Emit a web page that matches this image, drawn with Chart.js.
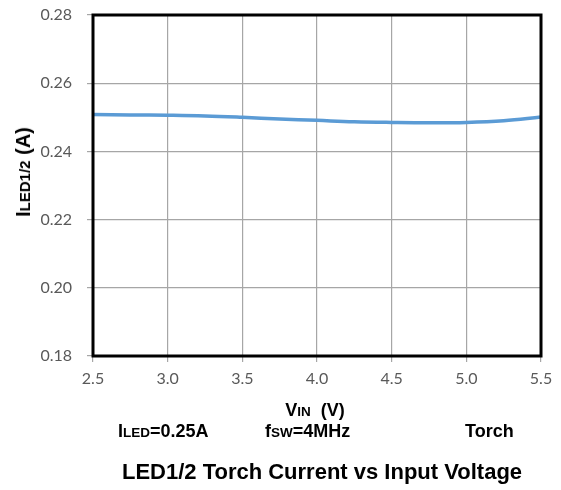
<!DOCTYPE html>
<html>
<head>
<meta charset="utf-8">
<script src="https://cdn.jsdelivr.net/npm/chart.js@4/dist/chart.umd.min.js"></script>
<style>
  body { margin: 0; background: #fff; }
  #wrap { position: relative; width: 561px; height: 490px; }
  #c { position: absolute; left: 0; top: 0; }
  .lbl { position: absolute; font-family: "Liberation Sans", Arial, sans-serif; font-weight: bold; color: #000; white-space: nowrap; line-height: 1; }
  .sm { font-size: 0.75em; }
</style>
</head>
<body>
<div id="wrap">
  <canvas id="c" width="561" height="490"></canvas>
  <div class="lbl" style="font-size:20px; left:23px; top:172px; transform: translate(-50%,-50%) rotate(-90deg);">I<span class="sm">LED1/2</span> (A)</div>
  <div class="lbl" style="font-size:18px; left:315px; top:410px; transform: translate(-50%,-50%);">V<span class="sm">IN</span>&nbsp; (V)</div>
  <div class="lbl" style="font-size:18px; left:118px; top:431px; transform: translateY(-50%);">I<span class="sm">LED</span>=0.25A</div>
  <div class="lbl" style="font-size:18px; left:265px; top:431px; transform: translateY(-50%);">f<span class="sm">SW</span>=4MHz</div>
  <div class="lbl" style="font-size:18px; left:465px; top:431px; transform: translateY(-50%);">Torch</div>
  <div class="lbl" style="font-size:22px; left:322px; top:472px; transform: translate(-50%,-50%);">LED1/2 Torch Current vs Input Voltage</div>
</div>
<script>
// Input voltage (V) and LED1/2 current (A)
const vin = [2.5, 2.75, 3.0, 3.25, 3.5, 3.75, 4.0, 4.25, 4.5, 4.75, 5.0, 5.25, 5.5];
const iled = [0.2508, 0.2507, 0.2506, 0.2504, 0.2500, 0.2495, 0.2491, 0.2487, 0.2485, 0.2484, 0.2485, 0.2490, 0.2501];

const xMin = 2.5, xMax = 5.5, xStep = 0.5;
const yMin = 0.18, yMax = 0.28, yStep = 0.02;

// black frame round the plot area
const frame = {
  id: 'frame',
  afterDraw(chart) {
    const a = chart.chartArea;
    const ctx = chart.ctx;
    ctx.save();
    ctx.strokeStyle = '#000';
    ctx.lineWidth = 3;
    ctx.strokeRect(a.left, a.top, a.right - a.left, a.bottom - a.top);
    ctx.restore();
  }
};

const tickFont = { family: 'Lato, "Open Sans", sans-serif', size: 16 };

new Chart(document.getElementById('c'), {
  type: 'line',
  data: {
    datasets: [{
      data: vin.map((v, i) => ({ x: v, y: iled[i] })),
      borderColor: '#5b9bd5',
      borderWidth: 3.5,
      pointRadius: 0,
      tension: 0.4,
      fill: false
    }]
  },
  options: {
    responsive: false,
    animation: false,
    layout: { padding: { top: 15, right: 20, left: 0, bottom: 0 } },
    plugins: { legend: { display: false }, tooltip: { enabled: false } },
    scales: {
      x: {
        type: 'linear',
        min: xMin, max: xMax,
        afterFit(s) { s.height = 134; },
        ticks: { stepSize: xStep, color: '#595959', font: tickFont, padding: 7, maxRotation: 0,
                 callback: v => v.toFixed(1) },
        grid: { color: '#a6a6a6', lineWidth: 1.2, tickLength: 6, tickColor: '#a6a6a6' },
        border: { display: false }
      },
      y: {
        min: yMin, max: yMax,
        afterFit(s) { s.width = 93; s.paddingTop = 0; s.paddingBottom = 0; },
        ticks: { stepSize: yStep, color: '#595959', font: tickFont, padding: 15,
                 callback: v => v.toFixed(2) },
        grid: { color: '#a6a6a6', lineWidth: 1.2, tickLength: 6, tickColor: '#a6a6a6' },
        border: { display: false }
      }
    }
  },
  plugins: [frame]
});
</script>
</body>
</html>
